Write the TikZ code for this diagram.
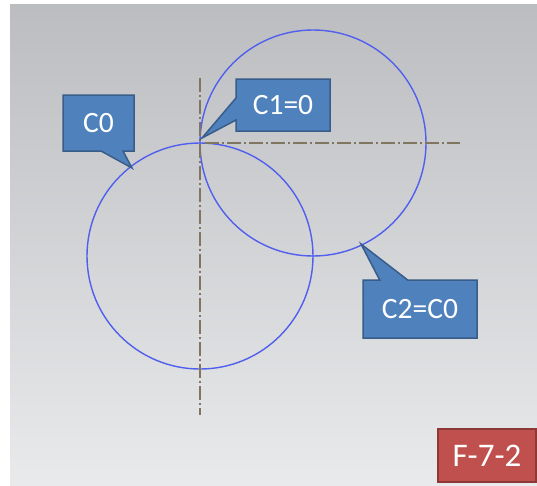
\documentclass[tikz,border=0pt]{standalone}
\usepackage{fontspec}
\setmainfont{Carlito}
\usetikzlibrary{shapes.callouts}
\definecolor{bgtop}{RGB}{188,189,192}
\definecolor{bgbot}{RGB}{233,234,236}
\definecolor{circ}{RGB}{80,95,238}
\definecolor{axis}{RGB}{128,118,96}
\definecolor{boxfill}{RGB}{79,129,189}
\definecolor{boxline}{RGB}{56,93,138}
\definecolor{redfill}{RGB}{192,80,77}
\definecolor{redline}{RGB}{140,56,54}
\tikzset{
  ring/.style={draw=circ, line width=1.4pt},
  centreline/.style={draw=axis, line width=1.4pt, dash pattern=on 14pt off 3pt on 2pt off 3pt},
  tag/.style={rectangle callout, fill=boxfill, draw=boxline, line width=1.5pt,
    text=white, font=\fontsize{29.5}{31}\selectfont, inner sep=0pt, outer sep=0pt},
  label/.style={rectangle, fill=redfill, draw=redline, line width=1.5pt,
    text=white, font=\fontsize{33}{35}\selectfont, inner sep=0pt, outer sep=0pt}
}
\begin{document}
\begin{tikzpicture}[x=1pt,y=-1pt]
\useasboundingbox (0,0) rectangle (537,485);
\fill[white] (0,0) rectangle (537,485);
\shade[top color=bgtop, bottom color=bgbot] (10,4) rectangle (537,485);
% circles
\draw[ring] (200,256) circle[radius=113];
\draw[ring] (313,143) circle[radius=113];
% centre lines
\coordinate (vtop) at (200,78);
\coordinate (vbot) at (200,415);
\coordinate (hl) at (205,143);
\coordinate (hr) at (460,143);
\draw[centreline] (vtop) -- (vbot);
\draw[centreline] (hl) -- (hr);
% callouts
\coordinate (p0) at (132,168);
\coordinate (p1) at (202,138);
\coordinate (p2) at (361,244);
\node[tag, minimum width=71pt, minimum height=56pt, callout absolute pointer={(p0)}, callout pointer width=22pt] (c0) at (98.5,123) {C0};
\node[tag, minimum width=94pt, minimum height=52pt, callout absolute pointer={(p1)}, callout pointer width=22pt] (c1) at (283,105) {C1=0};
\node[tag, minimum width=114pt, minimum height=58pt, callout absolute pointer={(p2)}, callout pointer width=28pt] (c2) at (420,309) {C2=C0};
\node[label, minimum width=98pt, minimum height=53pt] (f) at (487,455.5) {F-7-2};
\end{tikzpicture}
\end{document}
